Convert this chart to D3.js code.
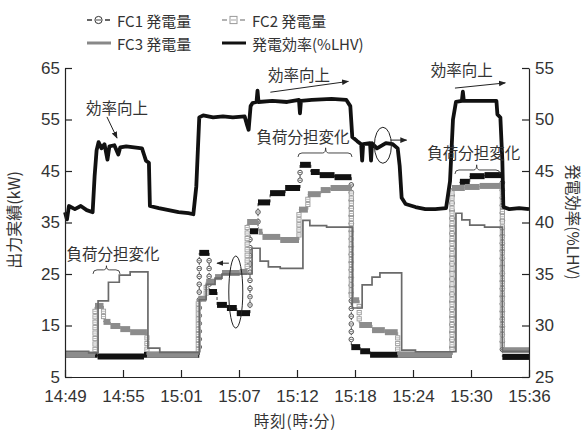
<!DOCTYPE html>
<html>
<head>
<meta charset="utf-8">
<script src="https://cdn.jsdelivr.net/npm/d3@7"></script>
<style>
  body { margin: 0; background: #fff; }
  svg { display: block; font-family: "Noto Sans CJK JP", "Noto Sans", sans-serif; }
</style>
</head>
<body>
<script>
// time axis: minutes after 14:49
const xTickLabels = ['14:49', '14:55', '15:01', '15:07', '15:12', '15:18', '15:24', '15:30', '15:36'];
const leftTicks = [5, 15, 25, 35, 45, 55, 65];
const rightTicks = [25, 30, 35, 40, 45, 50, 55];

// [minute, kW] step changes
const fc1 = [[0, 9.3], [3.3, 9.0], [8.0, 9.3], [13.6, 29.1], [14.6, 21.5], [15.4, 19.0], [16.4, 18.4], [17.4, 17.4],
  [18.74, 33.3], [19.55, 38.9], [20.77, 40.7], [22.3, 41.7], [23.81, 46.2], [24.9, 44.8], [25.8, 44.2], [27.3, 43.8],
  [29.0, 10.8], [29.9, 10.0], [30.9, 9.3], [39.2, 41.7], [40.0, 42.9], [41.0, 44.0], [42.5, 44.2], [44.3, 8.9], [47, 8.9]];
const fc2 = [[0, 9.3], [3.04, 18.8], [3.9, 15.7], [4.6, 14.9], [5.6, 14.3], [6.6, 13.7], [8.3, 9.3], [13.5, 20.2],
  [14.3, 23.5], [15.2, 24.4], [15.9, 25.2], [17.7, 25.4], [18.45, 35.1], [19.6, 33.2], [20.0, 32.2], [21.8, 31.6],
  [23.7, 37.5], [24.6, 40.5], [25.9, 41.3], [26.9, 41.7], [29.0, 19.9], [29.8, 15.1], [31.1, 14.1], [32.4, 13.7],
  [33.7, 9.3], [39.2, 41.7], [40.5, 41.9], [42.0, 42.1], [44.3, 10.2], [47, 10.2]];
const fc3 = [[0, 10.0], [2.4, 9.7], [3.35, 19.8], [4.4, 23.4], [5.5, 24.8], [6.6, 25.4], [8.4, 10.6], [9.6, 9.8],
  [13.6, 20.0], [14.3, 23.0], [15.2, 24.2], [15.9, 25.0], [18.95, 30.0], [19.76, 27.5], [20.6, 26.4], [21.8, 26.1],
  [24.1, 35.4], [24.8, 34.4], [26.5, 34.1], [29.1, 18.4], [30.1, 22.9], [31.1, 24.4], [31.9, 25.2], [34.1, 10.2],
  [35.5, 9.9], [39.6, 36.8], [40.2, 35.5], [41.0, 34.5], [42.5, 34.1], [44.3, 10.0], [47, 10.0]];

// [minute, %LHV]
const eff = [[0, 41.0], [0.2, 40.3], [0.4, 41.6], [1.0, 41.3], [1.6, 41.6], [2.2, 41.2], [2.8, 41.0],
  [3.0, 44.5], [3.2, 47.0], [3.4, 47.8], [3.7, 47.2], [4.0, 47.6], [4.3, 46.1], [4.5, 47.4], [5.0, 47.5], [5.4, 46.6],
  [5.6, 47.3], [6.2, 47.4], [7.0, 47.3], [7.8, 47.2], [8.0, 46.6], [8.2, 46.0], [8.5, 45.8], [8.6, 41.6], [9.5, 41.4],
  [10.5, 41.2], [11.5, 41.0], [12.5, 40.9], [13.0, 40.8], [13.3, 43.5], [13.6, 50.2], [14.0, 50.4], [15, 50.2],
  [16, 50.3], [17, 50.2], [18.2, 50.3], [18.4, 49.6], [18.6, 49.0], [18.8, 51.3], [19.0, 51.6], [19.4, 51.7],
  [19.5, 52.8], [19.6, 51.7], [21, 51.8], [22.5, 51.7], [23.7, 51.9], [23.8, 50.6], [23.9, 51.8], [25, 51.9],
  [27, 52.0], [28.5, 51.9], [28.9, 51.3], [29.1, 48.3], [29.6, 47.9], [30.0, 47.6], [30.1, 46.0], [30.2, 47.6],
  [30.9, 47.7], [31.0, 46.0], [31.1, 47.7], [31.6, 47.2], [32.5, 47.7], [33.2, 47.6], [33.7, 47.2], [33.9, 45.5],
  [34.1, 42.4], [34.5, 41.8], [35.5, 41.5], [36.5, 41.3], [37.5, 41.3], [38.6, 41.4], [39.0, 44.0], [39.3, 50.0],
  [39.6, 51.7], [40.2, 51.8], [40.3, 52.7], [40.4, 51.8], [41.5, 51.8], [42.5, 51.8], [43.7, 51.8], [43.8, 50.5],
  [44.1, 50.2], [44.3, 46.0], [44.4, 41.5], [45, 41.3], [46, 41.4], [47, 41.3]];

const width = 585;
const height = 432;
const plotL = 65, plotR = 529, plotT = 68, plotB = 377;

const svg = d3.select('body').append('svg')
  .attr('width', width)
  .attr('height', height);

const x = d3.scaleLinear().domain([0, 47]).range([plotL, plotR]);
const yL = d3.scaleLinear().domain([5, 65]).range([plotB, plotT]);
const yR = d3.scaleLinear().domain([25, 55]).range([plotB, plotT]);

const defs = svg.append('defs');
defs.append('marker')
  .attr('id', 'head')
  .attr('viewBox', '0 0 10 10')
  .attr('refX', 9).attr('refY', 5)
  .attr('markerWidth', 7).attr('markerHeight', 7)
  .attr('orient', 'auto')
  .append('path').attr('d', 'M0,1L10,5L0,9z').attr('fill', '#222');

// split step data into flat runs and jumps
function steps (data) {
  const flat = [], jump = [];
  for (let i = 0; i < data.length - 1; i++) {
    const [t0, v0] = data[i];
    const [t1, v1] = data[i + 1];
    flat.push([t0, t1, v0]);
    if (v1 !== v0) jump.push([t1, v0, v1]);
  }
  return { flat, jump };
}

function drawFC (data, opt) {
  const g = svg.append('g');
  const { flat, jump } = steps(data);
  jump.forEach(([t, v0, v1]) => {
    const xx = x(t), ya = yL(v0), yb = yL(v1);
    g.append('line')
      .attr('x1', xx).attr('x2', xx).attr('y1', ya).attr('y2', yb)
      .attr('stroke', opt.dash).attr('stroke-width', 1).attr('stroke-dasharray', '3,2');
    const n = Math.floor(Math.abs(yb - ya) / opt.gap);
    for (let k = 1; k < n; k++) {
      const yy = ya + (yb - ya) * k / n;
      if (opt.shape === 'circle') {
        g.append('circle').attr('cx', xx).attr('cy', yy).attr('r', 2.3)
          .attr('fill', '#fff').attr('stroke', opt.dash).attr('stroke-width', 0.9);
      } else {
        g.append('rect').attr('x', xx - 2.1).attr('y', yy - 2.1).attr('width', 4.2).attr('height', 4.2)
          .attr('fill', '#fff').attr('stroke', opt.dash).attr('stroke-width', 0.9);
      }
      g.append('line').attr('x1', xx - 1.6).attr('x2', xx + 1.6).attr('y1', yy).attr('y2', yy)
        .attr('stroke', opt.dash).attr('stroke-width', 0.7);
    }
  });
  g.selectAll('.flat').data(flat).join('line')
    .attr('x1', d => x(d[0])).attr('x2', d => x(d[1]))
    .attr('y1', d => yL(d[2])).attr('y2', d => yL(d[2]))
    .attr('stroke', opt.color).attr('stroke-width', 6);
}

drawFC(fc1, { color: '#111', dash: '#444', shape: 'circle', gap: 7.5 });
drawFC(fc2, { color: '#8c8c8c', dash: '#9a9a9a', shape: 'square', gap: 5 });

svg.append('path')
  .datum(fc3)
  .attr('fill', 'none')
  .attr('stroke', '#6a6a6a')
  .attr('stroke-width', 1.7)
  .attr('d', d3.line().x(d => x(d[0])).y(d => yL(d[1])).curve(d3.curveStepAfter));

svg.append('path')
  .datum(eff)
  .attr('fill', 'none')
  .attr('stroke', '#111')
  .attr('stroke-width', 3.8)
  .attr('stroke-linejoin', 'round')
  .attr('d', d3.line().x(d => x(d[0])).y(d => yR(d[1])));

// axes
const axisStyle = (g) => {
  g.selectAll('path, line').attr('stroke', '#222').attr('stroke-width', 1.2);
  g.selectAll('text').attr('font-size', 17).attr('fill', '#333')
    .attr('font-family', '"Liberation Sans", Arial, sans-serif');
};

svg.append('g')
  .attr('transform', `translate(${plotL},0)`)
  .call(d3.axisLeft(yL).tickValues(leftTicks).tickSize(-7).tickSizeOuter(0).tickPadding(5))
  .call(axisStyle);

svg.append('g')
  .attr('transform', `translate(${plotR},0)`)
  .call(d3.axisRight(yR).tickValues(rightTicks).tickSize(-7).tickSizeOuter(0).tickPadding(6))
  .call(axisStyle);

svg.append('g')
  .attr('transform', `translate(0,${plotB})`)
  .call(d3.axisBottom(x).tickValues(d3.range(9).map(i => i * 47 / 8))
    .tickFormat((d, i) => xTickLabels[i]).tickSize(-7).tickSizeOuter(0).tickPadding(13))
  .call(axisStyle);

// axis titles
svg.append('text')
  .attr('transform', `translate(13,220) rotate(-90)`)
  .attr('text-anchor', 'middle').attr('dominant-baseline', 'central')
  .attr('font-size', 16).attr('fill', '#333')
  .text('出力実績(kW)');

svg.append('text')
  .attr('transform', `translate(574,222) rotate(90)`)
  .attr('text-anchor', 'middle').attr('dominant-baseline', 'central')
  .attr('font-size', 15.5).attr('fill', '#333')
  .text('発電効率(%LHV)');

svg.append('text')
  .attr('x', 295).attr('y', 420)
  .attr('text-anchor', 'middle').attr('dominant-baseline', 'central')
  .attr('font-size', 15.5).attr('letter-spacing', 0.8).attr('fill', '#333')
  .text('時刻(時:分)');

// annotations, placed in data units
const P = (t, v) => [x(t), yL(v)];

function label (t, v, s) {
  const [px, py] = P(t, v);
  svg.append('text').attr('x', px).attr('y', py)
    .attr('text-anchor', 'middle').attr('dominant-baseline', 'central')
    .attr('font-size', 15.5).attr('fill', '#333').text(s);
}
function arrow (t0, v0, t1, v1) {
  const [x0, y0] = P(t0, v0), [x1, y1] = P(t1, v1);
  svg.append('line').attr('x1', x0).attr('y1', y0).attr('x2', x1).attr('y2', y1)
    .attr('stroke', '#222').attr('stroke-width', 1).attr('marker-end', 'url(#head)');
}
function brace (t0, t1, tm, v, vp) {
  const [x0, yb] = P(t0, v), [x1] = P(t1, v), [xm, yp] = P(tm, vp);
  svg.append('path')
    .attr('d', `M${x0},${yb + 4}Q${x0},${yb} ${x0 + 4},${yb}L${xm - 3},${yb}Q${xm},${yb} ${xm},${yp}` +
      `Q${xm},${yb} ${xm + 3},${yb}L${x1 - 4},${yb}Q${x1},${yb} ${x1},${yb + 4}`)
    .attr('fill', 'none').attr('stroke', '#333').attr('stroke-width', 0.9);
}
function loop (t, v, rx, ry) {
  const [cx, cy] = P(t, v);
  svg.append('ellipse').attr('cx', cx).attr('cy', cy).attr('rx', rx).attr('ry', ry)
    .attr('fill', 'none').attr('stroke', '#222').attr('stroke-width', 1);
}

label(5.27, 57.4, '効率向上');
arrow(4.25, 55.5, 5.27, 51.4);
label(23.7, 63.8, '効率向上');
arrow(20.8, 60.3, 28.7, 62.4);
label(40.2, 64.8, '効率向上');
arrow(39.5, 61.1, 44.6, 62.1);

label(4.86, 29.1, '負荷分担変化');
brace(2.84, 5.57, 4.2, 25.8, 26.6);
label(24.1, 51.8, '負荷分担変化');
brace(23.6, 29.07, 26.4, 48.5, 49.5);
label(41.4, 48.7, '負荷分担変化');
brace(39.5, 44.06, 41.7, 45.2, 46.2);

loop(17.3, 21.5, 7, 36);
arrow(16.6, 27.1, 15.4, 27.1);
loop(32.2, 50.0, 8.5, 18);
arrow(33.0, 51.0, 34.6, 51.0);

// legend
const lg = svg.append('g').attr('font-size', 15).attr('fill', '#333');
function legendItem (lx, ly, kind, s) {
  const g = lg.append('g').attr('transform', `translate(${lx},${ly})`);
  if (kind === 'fc1' || kind === 'fc2') {
    const c = kind === 'fc1' ? '#333' : '#999';
    g.append('line').attr('x1', 0).attr('x2', 23).attr('stroke', c).attr('stroke-width', 1.3)
      .attr('stroke-dasharray', '5,13');
    if (kind === 'fc1') {
      g.append('circle').attr('cx', 11.5).attr('r', 3.6).attr('fill', '#fff').attr('stroke', c).attr('stroke-width', 1);
    } else {
      g.append('rect').attr('x', 8).attr('y', -3.6).attr('width', 7).attr('height', 7.2)
        .attr('fill', '#fff').attr('stroke', c).attr('stroke-width', 1);
    }
    g.append('line').attr('x1', 9).attr('x2', 14).attr('stroke', c).attr('stroke-width', 0.9);
  } else {
    g.append('line').attr('x1', 0).attr('x2', 24)
      .attr('stroke', kind === 'fc3' ? '#888' : '#111').attr('stroke-width', 3);
  }
  g.append('text').attr('x', 30).attr('dominant-baseline', 'central').text(s);
}
legendItem(87, 20, 'fc1', 'FC1 発電量');
legendItem(222, 20, 'fc2', 'FC2 発電量');
legendItem(87, 43, 'fc3', 'FC3 発電量');
legendItem(222, 43, 'eff', '発電効率(%LHV)');
</script>
</body>
</html>
